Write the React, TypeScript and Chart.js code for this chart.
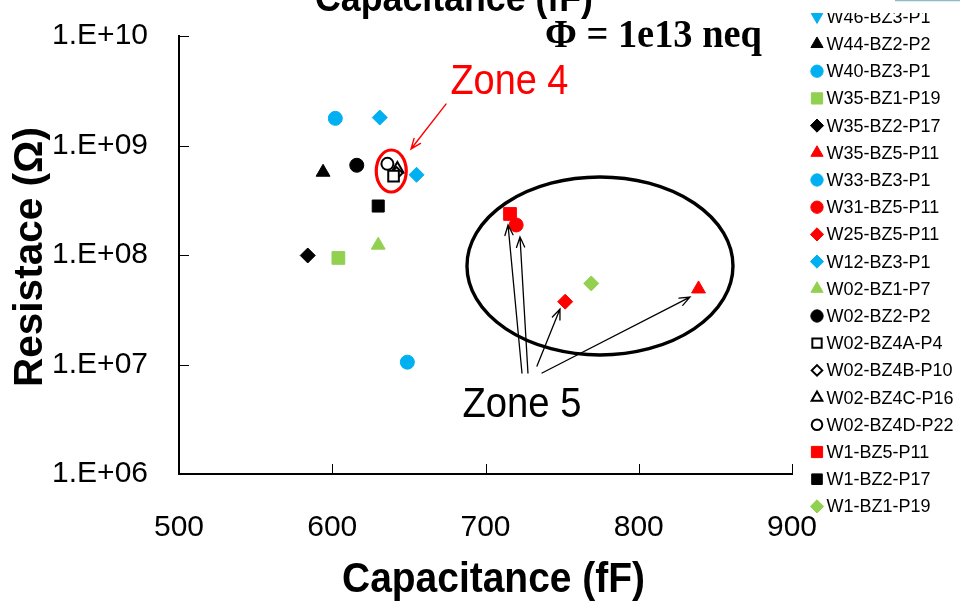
import React, { useEffect, useRef } from 'react';
import { Chart, registerables } from 'chart.js';
import { drawPoint } from 'chart.js/helpers';

Chart.register(...registerables);

// ---------- data ----------
const seriesLabels = [
  'W46-BZ3-P1', 'W44-BZ2-P2', 'W40-BZ3-P1', 'W35-BZ1-P19', 'W35-BZ2-P17',
  'W35-BZ5-P11', 'W33-BZ3-P1', 'W31-BZ5-P11', 'W25-BZ5-P11', 'W12-BZ3-P1',
  'W02-BZ1-P7', 'W02-BZ2-P2', 'W02-BZ4A-P4', 'W02-BZ4B-P10', 'W02-BZ4C-P16',
  'W02-BZ4D-P22', 'W1-BZ5-P11', 'W1-BZ2-P17', 'W1-BZ1-P19',
];

// capacitance (fF) per series
const seriesCapacitance: number[][] = [
  [], [594], [602], [604], [584],
  [839], [649], [720], [752], [631, 655],
  [630], [616], [640], [642], [642.5],
  [636], [716], [630], [769],
];

// resistance (Ohm) per series
const seriesResistance: number[][] = [
  [], [5.7e8], [1.77e9], [9.4e7], [9.9e7],
  [4.9e7], [1.05e7], [1.88e8], [3.75e7], [1.8e9, 5.4e8],
  [1.23e8], [6.6e8], [5.25e8], [5.6e8], [6.1e8],
  [6.8e8], [2.37e8], [2.8e8], [5.5e7],
];

const xTickValues = [500, 600, 700, 800, 900];
const yTickValues = [1e6, 1e7, 1e8, 1e9, 1e10];

const BLUE = '#00B0F0';
const GREEN = '#92D050';
const RED = '#FF0000';
const BLACK = '#000000';

type MarkerStyle = { shape: string; color: string; filled: boolean; radius: number; rotation?: number };
const seriesStyles: MarkerStyle[] = [
  { shape: 'triangle', color: BLUE, filled: true, radius: 7.5, rotation: 180 },
  { shape: 'triangle', color: BLACK, filled: true, radius: 8 },
  { shape: 'circle', color: BLUE, filled: true, radius: 7 },
  { shape: 'rect', color: GREEN, filled: true, radius: 9 },
  { shape: 'rectRot', color: BLACK, filled: true, radius: 7.5 },
  { shape: 'triangle', color: RED, filled: true, radius: 8 },
  { shape: 'circle', color: BLUE, filled: true, radius: 7 },
  { shape: 'circle', color: RED, filled: true, radius: 7 },
  { shape: 'rectRot', color: RED, filled: true, radius: 7.5 },
  { shape: 'rectRot', color: BLUE, filled: true, radius: 7.5 },
  { shape: 'triangle', color: GREEN, filled: true, radius: 8 },
  { shape: 'circle', color: BLACK, filled: true, radius: 7 },
  { shape: 'rect', color: BLACK, filled: false, radius: 7.5 },
  { shape: 'rectRot', color: BLACK, filled: false, radius: 6 },
  { shape: 'triangle', color: BLACK, filled: false, radius: 7 },
  { shape: 'circle', color: BLACK, filled: false, radius: 6 },
  { shape: 'rect', color: RED, filled: true, radius: 9 },
  { shape: 'rect', color: BLACK, filled: true, radius: 8.5 },
  { shape: 'rectRot', color: GREEN, filled: true, radius: 7.5 },
];

const SANS = "'Liberation Sans', Arial, sans-serif";
const SERIF = "'Liberation Serif', 'Times New Roman', serif";

function fitText(
  ctx: CanvasRenderingContext2D, text: string, x: number, y: number,
  font: string, width: number, align: CanvasTextAlign, color: string, rotate = 0,
) {
  ctx.save();
  ctx.font = font;
  ctx.fillStyle = color;
  ctx.textAlign = align;
  ctx.textBaseline = 'alphabetic';
  const w = ctx.measureText(text).width;
  const sx = w > 0 ? width / w : 1;
  ctx.translate(x, y);
  if (rotate) ctx.rotate(rotate);
  ctx.scale(sx, 1);
  ctx.fillText(text, 0, 0);
  ctx.restore();
}

function arrow(ctx: CanvasRenderingContext2D, x1: number, y1: number, x2: number, y2: number, color: string, lw: number) {
  const ang = Math.atan2(y2 - y1, x2 - x1);
  const head = 11;
  const spread = 0.38;
  ctx.save();
  ctx.strokeStyle = color;
  ctx.lineWidth = lw;
  ctx.lineCap = 'round';
  ctx.beginPath();
  ctx.moveTo(x1, y1);
  ctx.lineTo(x2, y2);
  ctx.moveTo(x2 - head * Math.cos(ang - spread), y2 - head * Math.sin(ang - spread));
  ctx.lineTo(x2, y2);
  ctx.lineTo(x2 - head * Math.cos(ang + spread), y2 - head * Math.sin(ang + spread));
  ctx.stroke();
  ctx.restore();
}

const annotationPlugin = {
  id: 'annotations',
  afterDraw(chart: any) {
    const ctx: CanvasRenderingContext2D = chart.ctx;
    const xs = chart.scales.x;
    const ys = chart.scales.y;
    const area = chart.chartArea;
    const px = (c: number) => xs.getPixelForValue(c);
    const py = (r: number) => ys.getPixelForValue(r);

    // inward tick marks
    ctx.save();
    ctx.strokeStyle = '#000';
    ctx.lineWidth = 1;
    xTickValues.forEach((v) => {
      const x = Math.round(px(v)) + 0.5;
      ctx.beginPath();
      ctx.moveTo(x, area.bottom);
      ctx.lineTo(x, area.bottom - 10);
      ctx.stroke();
    });
    yTickValues.forEach((v) => {
      const y = Math.round(py(v)) + 0.5;
      ctx.beginPath();
      ctx.moveTo(area.left, y);
      ctx.lineTo(area.left + 10, y);
      ctx.stroke();
    });
    ctx.restore();

    // Zone 4: red ellipse + arrow + label
    ctx.save();
    ctx.strokeStyle = RED;
    ctx.lineWidth = 3.2;
    ctx.beginPath();
    ctx.ellipse(px(638.5), py(5.85e8), 15, 21, 0, 0, Math.PI * 2);
    ctx.stroke();
    ctx.restore();
    arrow(ctx, px(674.2), py(2.39e9), px(651.4), py(9.3e8), RED, 1.4);
    fitText(ctx, 'Zone 4', px(715.6), py(2.95e9), `42px ${SANS}`, 118, 'center', RED);

    // Zone 5: black ellipse + arrows + label
    ctx.save();
    ctx.strokeStyle = BLACK;
    ctx.lineWidth = 3.4;
    ctx.beginPath();
    ctx.ellipse(px(774.7), py(7.94e7), 133, 89, 0, 0, Math.PI * 2);
    ctx.stroke();
    ctx.restore();
    arrow(ctx, px(723.8), py(8.36e6), px(714.7), py(1.88e8), BLACK, 1.3);
    arrow(ctx, px(727.7), py(8.36e6), px(722.5), py(1.46e8), BLACK, 1.3);
    arrow(ctx, px(733.6), py(9.68e6), px(748.6), py(3.21e7), BLACK, 1.3);
    arrow(ctx, px(736.9), py(8.36e6), px(833.4), py(4.13e7), BLACK, 1.3);
    fitText(ctx, 'Zone 5', px(723.8), py(3.32e6), `42px ${SANS}`, 119, 'center', BLACK);

    // fluence label
    fitText(ctx, 'Φ = 1e13 neq', px(738.8), py(7.94e9), `bold 39px ${SERIF}`, 217, 'left', BLACK);

    // axis titles
    fitText(ctx, 'Capacitance (fF)', 493.5, 592, `bold 42px ${SANS}`, 303, 'center', BLACK);
    fitText(ctx, 'Resistace (Ω)', 42, 257, `bold 40px ${SANS}`, 260, 'center', BLACK, -Math.PI / 2);
    // clipped title at the very top
    fitText(ctx, 'Capacitance (fF)', 454, 11, `bold 39px ${SANS}`, 278, 'center', BLACK);

    // legend (clipped at top)
    ctx.save();
    ctx.beginPath();
    ctx.rect(800, 13, 160, 606);
    ctx.clip();
    seriesLabels.forEach((label, i) => {
      const st = seriesStyles[i];
      const y = 16.8 + 27.2 * i;
      ctx.fillStyle = st.filled ? st.color : '#ffffff';
      ctx.strokeStyle = st.color;
      ctx.lineWidth = st.filled ? 1 : 2;
      drawPoint(ctx, {
        pointStyle: st.shape as any,
        rotation: st.rotation || 0,
        radius: st.radius * 0.88,
        borderWidth: st.filled ? 1 : 2,
      } as any, 817, y);
      ctx.fillStyle = '#000';
      ctx.font = `18px ${SANS}`;
      ctx.textAlign = 'left';
      ctx.textBaseline = 'middle';
      ctx.fillText(label, 826.5, y + 1);
    });
    ctx.restore();

    // thin teal line at top right
    ctx.save();
    ctx.strokeStyle = '#8fbcc0';
    ctx.lineWidth = 1.5;
    ctx.beginPath();
    ctx.moveTo(895, 0.5);
    ctx.lineTo(960, 0.5);
    ctx.stroke();
    ctx.restore();
  },
};

export default function App() {
  const canvasRef = useRef<HTMLCanvasElement | null>(null);

  useEffect(() => {
    const canvas = canvasRef.current;
    if (!canvas) return;
    const datasets = seriesLabels.map((label, i) => {
      const st = seriesStyles[i];
      return {
        label,
        data: seriesCapacitance[i].map((c, j) => ({ x: c, y: seriesResistance[i][j] })),
        pointStyle: st.shape,
        pointRotation: st.rotation || 0,
        pointRadius: st.radius,
        pointHoverRadius: st.radius,
        pointBackgroundColor: st.filled ? st.color : '#ffffff',
        pointBorderColor: st.color,
        pointBorderWidth: st.filled ? 1 : 2,
        showLine: false,
      };
    });

    const chart = new Chart(canvas, {
      type: 'scatter',
      data: { datasets: datasets as any },
      options: {
        animation: false,
        responsive: false,
        maintainAspectRatio: false,
        events: [],
        layout: { padding: { top: 36, right: 168, left: 0, bottom: 0 } },
        plugins: {
          legend: { display: false },
          tooltip: { enabled: false },
          title: { display: false },
        },
        scales: {
          x: {
            type: 'linear',
            position: 'bottom',
            min: 500,
            max: 900,
            afterBuildTicks: (s: any) => { s.ticks = xTickValues.map((v) => ({ value: v })); },
            afterFit: (s: any) => {
              s.height = 132;
              s.paddingLeft = 0;
              s.paddingRight = 0;
            },
            grid: { display: false, drawTicks: false },
            border: { display: true, color: '#000', width: 2 },
            ticks: {
              padding: 36,
              color: '#000',
              font: { family: SANS, size: 30 },
              maxRotation: 0,
              autoSkip: false,
              callback: (v: any) => String(v),
            },
          },
          y: {
            type: 'logarithmic',
            position: 'left',
            min: 1e6,
            max: 1e10,
            afterBuildTicks: (s: any) => { s.ticks = yTickValues.map((v) => ({ value: v })); },
            afterFit: (s: any) => {
              s.width = 179;
              s.paddingTop = 0;
              s.paddingBottom = 0;
            },
            grid: { display: false, drawTicks: false },
            border: { display: true, color: '#000', width: 2 },
            ticks: {
              padding: 31,
              color: '#000',
              font: { family: SANS, size: 30 },
              autoSkip: false,
              callback: (v: any) => {
                const e = Math.round(Math.log10(Number(v)));
                return '1.E+' + String(e).padStart(2, '0');
              },
            },
          },
        },
      },
      plugins: [annotationPlugin],
    } as any);

    return () => chart.destroy();
  }, []);

  return (
    <div style={{ position: 'fixed', left: 0, top: 0, width: 960, height: 606, background: '#fff' }}>
      <canvas ref={canvasRef} width={960} height={606} style={{ display: 'block' }} />
    </div>
  );
}
